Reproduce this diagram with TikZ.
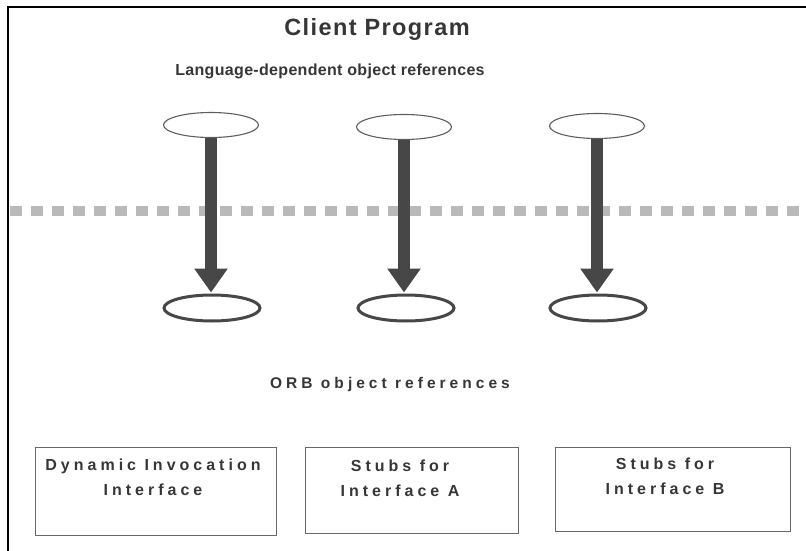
\documentclass[tikz,border=0pt]{standalone}
\usepackage{fontspec}
\setmainfont{Liberation Sans}
\newfontfamily\titlefont[LetterSpace=6]{Liberation Sans}
\newfontfamily\labelfont[LetterSpace=2]{Liberation Sans}
\newfontfamily\widefont[LetterSpace=26]{Liberation Sans}
\newfontfamily\boxfont[LetterSpace=25]{Liberation Sans}
\usetikzlibrary{arrows.meta,shapes.geometric}
\definecolor{ink}{HTML}{363636}
\definecolor{arrowgray}{HTML}{474747}
\tikzset{
  x=1pt, y=-1pt,
  heading/.style={font=\titlefont\bfseries\fontsize{23.5}{26}\selectfont, text=ink},
  caption/.style={font=\labelfont\bfseries\fontsize{16}{19}\selectfont, text=ink},
  widecaption/.style={font=\widefont\bfseries\fontsize{15.5}{19}\selectfont, text=ink},
  boxtext/.style={font=\boxfont\bfseries\fontsize{16}{25}\selectfont, text=ink, align=center},
  langref/.style={ellipse, draw=ink!80, line width=1.1pt, minimum width=95pt, minimum height=25pt, inner sep=0pt},
  orbref/.style={ellipse, draw=arrowgray, line width=3pt, minimum width=96pt, minimum height=26pt, inner sep=0pt},
  refarrow/.style={draw=arrowgray, line width=12pt, -{Triangle[width=32pt,length=24pt]}, shorten >=1pt},
  interfacebox/.style={draw=ink!75, line width=1.4pt, anchor=north west, inner sep=0pt},
  boundary/.style={draw=gray!55, line width=10pt, dash pattern=on 12pt off 9pt},
}
\begin{document}
\begin{tikzpicture}
\useasboundingbox (0,0) rectangle (806,551);
% frame: top and left edges only
\draw[line width=2.5pt, black] (8,551) -- (8,7) -- (806,7);

\node[heading] (title) at (377,29) {Client Program};
\node[caption] (langcap) at (330,71) {Language-dependent object references};

% language boundary
\coordinate (bl) at (10,211);
\coordinate (br) at (806,211);
\draw[boundary] (bl) -- (br);

% references
\node[langref] (l1) at (211,125) {};
\node[langref] (l2) at (404,127) {};
\node[langref] (l3) at (597,126) {};
\node[orbref] (o1) at (212,308) {};
\node[orbref] (o2) at (406,308) {};
\node[orbref] (o3) at (598,308) {};

\draw[refarrow] (l1.south) -- (l1.south |- o1.north);
\draw[refarrow] (l2.south) -- (l2.south |- o2.north);
\draw[refarrow] (l3.south) -- (l3.south |- o3.north);

\node[widecaption] (orbcap) at (390,384) {ORB object references};

% client-side interfaces
\node[interfacebox, minimum width=241pt, minimum height=88pt] (dii) at (35,447) {};
\node[boxtext] (diitext) at (153,477) {Dynamic Invocation\\Interface};
\node[interfacebox, minimum width=213pt, minimum height=86pt] (stubA) at (305,447) {};
\node[boxtext] (stubAtext) at (400,478) {Stubs for\\Interface A};
\node[interfacebox, minimum width=235pt, minimum height=84pt] (stubB) at (555,447) {};
\node[boxtext] (stubBtext) at (665,476) {Stubs for\\Interface B};
\end{tikzpicture}
\end{document}
